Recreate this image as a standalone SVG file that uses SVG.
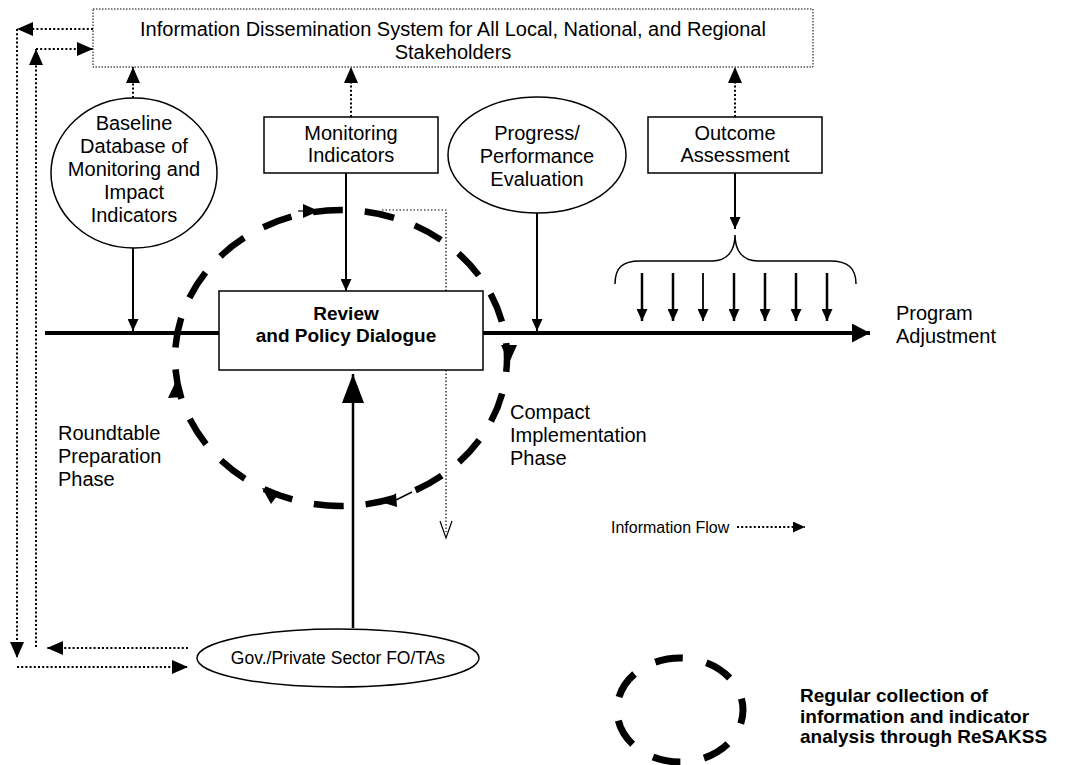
<svg xmlns="http://www.w3.org/2000/svg" width="1066" height="765" viewBox="0 0 1066 765">
  <style>
    text { font-family: "Liberation Sans", Arial, sans-serif; fill: #000; font-size: 20px; }
    .c { text-anchor: middle; }
    .b { font-weight: bold; font-size: 19px; }
    .sm { font-size: 17.5px; }
    .key { font-size: 16px; }
    .node { fill: #fff; stroke: #000; stroke-width: 1.5; }
    .frame { fill: #fff; stroke: #000; stroke-width: 1; stroke-dasharray: 1.5 1.5; }
    .dot { fill: none; stroke: #000; stroke-width: 2; stroke-dasharray: 2 2.2; }
    .fine { fill: none; stroke: #000; stroke-width: 1.2; stroke-dasharray: 1.5 2; }
    .solid { fill: none; stroke: #000; stroke-width: 2; }
    .thick { fill: none; stroke: #000; stroke-width: 4; }
    .ring { fill: none; stroke: #000; stroke-width: 6.5; stroke-dasharray: 30 22; stroke-dashoffset: 16; }
    .ring-key { fill: none; stroke: #000; stroke-width: 7; stroke-dasharray: 28 24; stroke-dashoffset: 14; }
    .head { fill: #000; stroke: none; }
  </style>
  <defs>
    <marker id="hd" markerUnits="userSpaceOnUse" viewBox="0 0 16 14" refX="16" refY="7" markerWidth="16" markerHeight="14" orient="auto">
      <path d="M0,0 L16,7 L0,14 z" fill="#000"/>
    </marker>
    <marker id="hs" markerUnits="userSpaceOnUse" viewBox="0 0 12 11" refX="12" refY="5.5" markerWidth="12" markerHeight="11" orient="auto">
      <path d="M0,0 L12,5.5 L0,11 z" fill="#000"/>
    </marker>
    <marker id="hb" markerUnits="userSpaceOnUse" viewBox="0 0 29 22" refX="29" refY="11" markerWidth="29" markerHeight="22" orient="auto">
      <path d="M0,0 L29,11 L0,22 z" fill="#000"/>
    </marker>
    <marker id="ht" markerUnits="userSpaceOnUse" viewBox="0 0 18 19" refX="18" refY="9.5" markerWidth="18" markerHeight="19" orient="auto">
      <path d="M0,0 L18,9.5 L0,19 z" fill="#000"/>
    </marker>
  </defs>

  <!-- review cycle ring -->
  <g id="cycle">
    <ellipse class="ring" cx="341" cy="358" rx="166" ry="148"/>
    <line x1="298" y1="211" x2="305" y2="211" stroke="#000" stroke-width="1.2"/>
    <polygon class="head" points="319,211 303,204 303,218"/>
    <polygon class="head" points="509,363 501,345 517,345"/>
    <polygon class="head" points="176,381 168,398 184,397"/>
    <polygon class="head" points="271,504 262,488 280,492"/>
    <polygon class="head" points="384,503 396,493 397,507"/>
    <line x1="396" y1="500" x2="412" y2="492" stroke="#000" stroke-width="1.5"/>
  </g>

  <g id="connectors">
    <!-- information flow loop on the left -->
    <line class="dot" x1="93" y1="29" x2="17" y2="29" marker-end="url(#hd)"/>
    <line class="dot" x1="17" y1="29" x2="17" y2="658" marker-end="url(#hd)"/>
    <line class="dot" x1="17" y1="667" x2="188" y2="667" marker-end="url(#hd)"/>
    <line class="dot" x1="188" y1="648" x2="47" y2="648" marker-end="url(#hd)"/>
    <line class="dot" x1="36" y1="647" x2="36" y2="49" marker-end="url(#hd)"/>
    <line class="dot" x1="36" y1="49" x2="93" y2="49" marker-end="url(#hd)"/>
    <!-- reporting up to the dissemination system -->
    <line class="dot" x1="133" y1="98" x2="133" y2="67" marker-end="url(#hd)"/>
    <line class="dot" x1="351" y1="117" x2="351" y2="67" marker-end="url(#hd)"/>
    <line class="dot" x1="735" y1="117" x2="735" y2="67" marker-end="url(#hd)"/>
    <!-- feedback from the ring -->
    <polyline class="fine" points="382,210 446,210 446,532"/>
    <polyline fill="none" stroke="#000" stroke-width="1.2" points="440,521 446,538 452,521"/>
    <!-- timeline -->
    <line class="thick" x1="45" y1="333" x2="219" y2="333"/>
    <line class="thick" x1="483" y1="333" x2="870" y2="333" marker-end="url(#ht)"/>
    <!-- inputs to the timeline -->
    <line class="solid" x1="133" y1="248" x2="133" y2="331" marker-end="url(#hs)"/>
    <line class="solid" x1="346" y1="173" x2="346" y2="291" marker-end="url(#hs)"/>
    <line class="solid" x1="537" y1="213" x2="537" y2="331" marker-end="url(#hs)"/>
    <line class="solid" x1="735" y1="173" x2="735" y2="229" marker-end="url(#hs)"/>
    <line stroke="#000" stroke-width="2.5" x1="353" y1="628" x2="353" y2="374" marker-end="url(#hb)"/>
    <!-- outcome brace and its arrows -->
    <path fill="none" stroke="#000" stroke-width="1.5" d="M615,284 C615,268 622,261 640,261 L712,261 C728,261 735,250 735,235 C735,250 742,261 758,261 L830,261 C848,261 856,268 856,284"/>
    <line stroke="#000" stroke-width="2.5" x1="642" y1="273" x2="642" y2="321" marker-end="url(#hs)"/>
    <line stroke="#000" stroke-width="2.5" x1="673" y1="273" x2="673" y2="321" marker-end="url(#hs)"/>
    <line stroke="#000" stroke-width="1.8" x1="703" y1="273" x2="703" y2="321" marker-end="url(#hs)"/>
    <line stroke="#000" stroke-width="2.5" x1="734" y1="273" x2="734" y2="321" marker-end="url(#hs)"/>
    <line stroke="#000" stroke-width="2.5" x1="765" y1="273" x2="765" y2="321" marker-end="url(#hs)"/>
    <line stroke="#000" stroke-width="2.5" x1="796" y1="273" x2="796" y2="321" marker-end="url(#hs)"/>
    <line stroke="#000" stroke-width="2.5" x1="827" y1="273" x2="827" y2="321" marker-end="url(#hs)"/>
    <!-- key arrow -->
    <line class="dot" x1="737" y1="527" x2="805" y2="527" marker-end="url(#hs)"/>
  </g>

  <g id="dissemination">
    <rect class="frame" x="93" y="9" width="720" height="58"/>
    <text class="c" x="453" y="36">Information Dissemination System for All Local, National, and Regional</text>
    <text class="c" x="453" y="59">Stakeholders</text>
  </g>

  <g id="baseline">
    <ellipse class="node" cx="134" cy="173" rx="83" ry="75"/>
    <text class="c" x="134" y="130">Baseline</text>
    <text class="c" x="134" y="153">Database of</text>
    <text class="c" x="134" y="176">Monitoring and</text>
    <text class="c" x="134" y="199">Impact</text>
    <text class="c" x="134" y="222">Indicators</text>
  </g>

  <g id="monitoring">
    <rect class="node" x="264" y="117" width="174" height="56"/>
    <text class="c" x="351" y="140">Monitoring</text>
    <text class="c" x="351" y="162">Indicators</text>
  </g>

  <g id="progress">
    <ellipse class="node" cx="537" cy="155" rx="89" ry="58"/>
    <text class="c" x="537" y="140">Progress/</text>
    <text class="c" x="537" y="163">Performance</text>
    <text class="c" x="537" y="186">Evaluation</text>
  </g>

  <g id="outcome">
    <rect class="node" x="648" y="117" width="174" height="56"/>
    <text class="c" x="735" y="140">Outcome</text>
    <text class="c" x="735" y="162">Assessment</text>
  </g>

  <g id="review">
    <rect class="node" x="219" y="291" width="264" height="79"/>
    <text class="c b" x="346" y="320">Review</text>
    <text class="c b" x="346" y="342">and Policy Dialogue</text>
  </g>

  <g id="adjustment">
    <text x="896" y="320">Program</text>
    <text x="896" y="343">Adjustment</text>
  </g>

  <g id="compact-phase">
    <text x="510" y="419">Compact</text>
    <text x="510" y="442">Implementation</text>
    <text x="510" y="465">Phase</text>
  </g>

  <g id="roundtable-phase">
    <text x="58" y="440">Roundtable</text>
    <text x="58" y="463">Preparation</text>
    <text x="58" y="486">Phase</text>
  </g>

  <g id="stakeholders">
    <ellipse class="node" cx="338" cy="658" rx="141" ry="29"/>
    <text class="c sm" x="338" y="664">Gov./Private Sector FO/TAs</text>
  </g>

  <g id="key">
    <text class="key" x="611" y="533">Information Flow</text>
    <ellipse class="ring-key" cx="680" cy="710" rx="63" ry="52"/>
    <text class="b" x="800" y="702">Regular collection of</text>
    <text class="b" x="800" y="723">information and indicator</text>
    <text class="b" x="800" y="743">analysis through ReSAKSS</text>
  </g>
</svg>
